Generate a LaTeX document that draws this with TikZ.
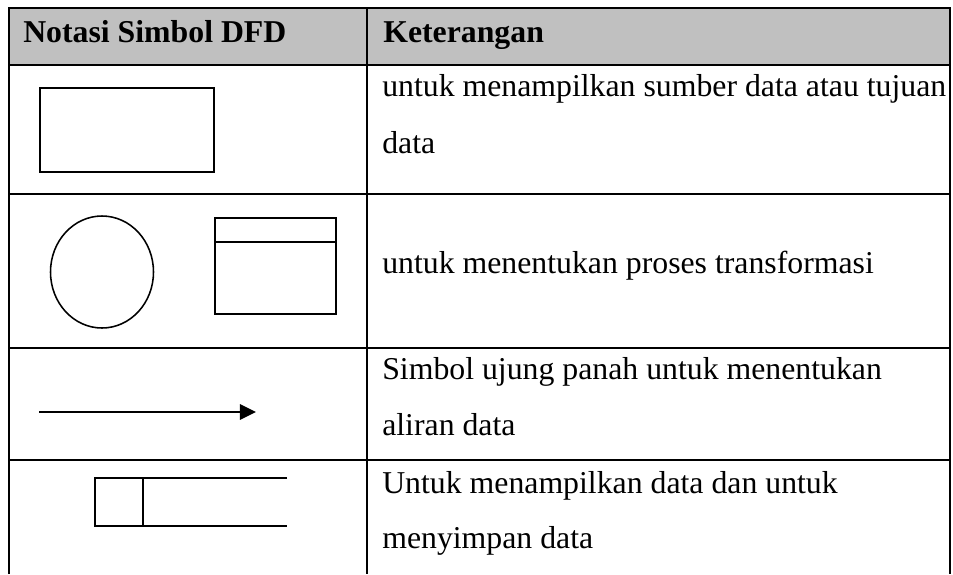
\documentclass[tikz,border=0pt]{standalone}
\usepackage{tikz}
\usepackage{fontspec}
\setmainfont{Liberation Serif}
\usetikzlibrary{arrows.meta}
\usetikzlibrary{positioning}

\definecolor{hdrgray}{HTML}{C0C0C0}

\tikzset{
    tabline/.style={line width=1.8pt, draw=black},
    symline/.style={line width=1.1pt, draw=black},
    hdrtext/.style={anchor=base west, inner sep=0pt, font=\fontsize{22.6}{27}\selectfont\bfseries},
    celltext/.style={anchor=base west, inner sep=0pt, font=\fontsize{22.6}{27}\selectfont}
}

\begin{document}
\begin{tikzpicture}[x=0.025cm, y=-0.025cm]

        \useasboundingbox (0,0) rectangle (953,574);

        % header row
        \fill [hdrgray] (9,8) rectangle (950,65);
        \node[hdrtext] (hnotasi) at (23,42) {Notasi Simbol DFD};
        \node[hdrtext] (hket) at (383,42) {Keterangan};

        % table lines
        \draw [tabline] (9,574) -- (9,8) -- (950,8) -- (950,574);
        \draw [tabline] (367,8) -- (367,574);
        \draw [tabline] (9,65) -- (950,65);
        \draw [tabline] (9,194) -- (950,194);
        \draw [tabline] (9,348) -- (950,348);
        \draw [tabline] (9,460) -- (950,460);

        % sumber / tujuan data
        \draw [symline] (40,88) rectangle (214,172);
        \node[celltext] (ketsumber) at (382,96) {untuk menampilkan sumber data atau tujuan};
        \node[celltext] (ketsumberb) at (382,153) {data};

        % proses
        \draw [symline] (102,272) ellipse (51.5 and 56);
        \draw [symline] (215,218) rectangle (336,314);
        \draw [symline] (215,242) -- (336,242);
        \node[celltext] (ketproses) at (382,273) {untuk menentukan proses transformasi};

        % aliran data
        \coordinate (flowa) at (39,412);
        \coordinate (flowb) at (256,412);
        \draw [line width=1.7pt, -{Triangle[length=0.4cm, width=0.38cm]}] (flowa) -- (flowb);
        \node[celltext] (ketaliran) at (382,379) {Simbol ujung panah untuk menentukan};
        \node[celltext] (ketaliranb) at (382,435) {aliran data};

        % data store
        \draw [symline] (287,478) -- (95,478) -- (95,526) -- (287,526);
        \draw [symline] (143,478) -- (143,526);
        \node[celltext] (ketstore) at (382,493) {Untuk menampilkan data dan untuk};
        \node[celltext] (ketstoreb) at (382,548) {menyimpan data};

    \end{tikzpicture}
\end{document}
